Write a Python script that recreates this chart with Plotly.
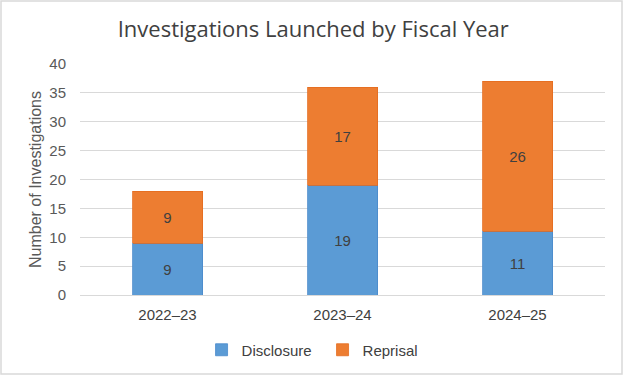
import plotly.graph_objects as go

categories = ["2022–23", "2023–24", "2024–25"]
disclosure = [9, 19, 11]
reprisal = [9, 17, 26]
y_ticks = [0, 5, 10, 15, 20, 25, 30, 35, 40]

W, H = 624, 376
L, R, T, B = 80, 19, 64, 81
pw, ph = W - L - R, H - T - B

def px_to_paper_x(p):
    return (p - L) / pw

def px_to_paper_y(p):
    return (H - B - p) / ph

fig = go.Figure()
fig.add_trace(go.Bar(
    name="Disclosure", x=categories, y=disclosure,
    marker=dict(color="#5B9BD5", line=dict(color="#4A8ACB", width=0.8)),
    text=disclosure, textposition="inside", insidetextanchor="middle",
    textfont=dict(family="Liberation Sans, Arial", size=15, color="#404040"),
))
fig.add_trace(go.Bar(
    name="Reprisal", x=categories, y=reprisal,
    marker=dict(color="#ED7D31", line=dict(color="#E46C1F", width=0.8)),
    text=reprisal, textposition="inside", insidetextanchor="middle",
    textfont=dict(family="Liberation Sans, Arial", size=15, color="#404040"),
))

fig.update_layout(
    barmode="stack",
    bargap=0.6,
    width=W, height=H,
    margin=dict(l=L, r=R, t=T, b=B, autoexpand=False),
    paper_bgcolor="white",
    plot_bgcolor="white",
    title=dict(
        text="Investigations Launched by Fiscal Year",
        x=0.502, xanchor="center", y=1 - 29 / H, yanchor="middle",
        font=dict(family="Open Sans, Lato, sans-serif", size=22, color="#404040"),
    ),
    uniformtext=dict(mode=False),
    legend=dict(
        orientation="h", x=0.462, xanchor="center", y=px_to_paper_y(350), yanchor="middle",
        font=dict(family="Liberation Sans, Arial", size=15, color="#404040"),
        itemwidth=30, traceorder="normal", entrywidth=76, entrywidthmode="pixels",
    ),
    showlegend=True,
    shapes=[dict(
        type="rect", xref="paper", yref="paper",
        x0=px_to_paper_x(1), x1=px_to_paper_x(622),
        y0=px_to_paper_y(374), y1=px_to_paper_y(1),
        line=dict(color="#D9D9D9", width=1.5), fillcolor="rgba(0,0,0,0)", layer="below",
    )],
)

fig.update_yaxes(
    automargin=False,
    range=[0, 40], tickvals=y_ticks, showgrid=True, gridcolor="#D9D9D9", gridwidth=1,
    zeroline=False, showline=False, ticks="",
    tickfont=dict(family="Liberation Sans, Arial", size=15, color="#595959"),
    title=dict(text="Number of Investigations", standoff=3,
               font=dict(family="Liberation Sans, Arial", size=16, color="#595959")),
    ticklabelstandoff=13,
)
fig.update_xaxes(
    automargin=False,
    showline=True, linecolor="#D9D9D9", linewidth=1, ticks="",
    tickfont=dict(family="Liberation Sans, Arial", size=15, color="#404040"),
    ticklabelstandoff=6,
)

fig.write_html("out.html", config={"displayModeBar": False},
               post_script="document.body.style.margin='0';")
